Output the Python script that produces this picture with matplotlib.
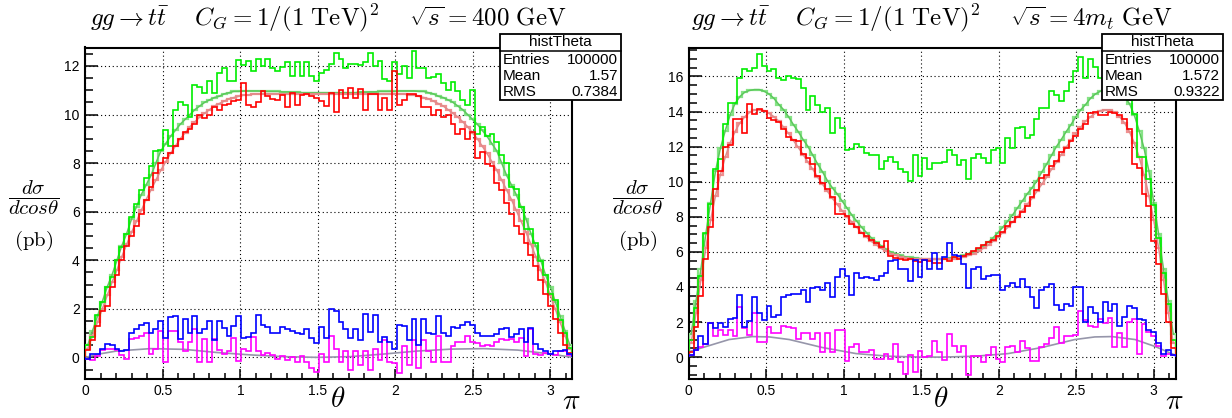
import numpy as np
import matplotlib.pyplot as plt
from matplotlib.patches import Rectangle
from matplotlib.ticker import MultipleLocator

plt.rcParams['mathtext.fontset'] = 'cm'
plt.rcParams['font.family'] = ['Liberation Sans', 'DejaVu Sans']

# ---- data: 100 bins in theta from 0 to pi ----
n_bins = 100

# left panel: sqrt(s) = 400 GeV
left_green = [0.5, 0.85, 1.75, 2.3, 2.9, 3.3, 4.0, 4.55, 5.1, 5.8,
              6.3, 6.9, 7.4, 7.9, 8.5, 8.55, 9.35, 8.7, 10.2, 10.5,
              10.4, 9.9, 11.2, 11.15, 10.9, 11.4, 10.9, 11.7, 11.9, 11.4,
              11.4, 12.25, 12.05, 12.2, 11.8, 12.3, 12.0, 12.3, 11.9, 11.8,
              11.95, 12.15, 11.6, 12.15, 11.6, 12.15, 11.6, 11.4, 11.7, 11.85,
              12.1, 12.55, 12.3, 11.9, 12.1, 12.1, 12.05, 12.15, 12.55, 12.0,
              12.2, 11.45, 11.4, 12.15, 11.65, 12.0, 11.5, 12.6, 11.9, 11.9,
              11.5, 11.55, 11.65, 11.3, 11.0, 11.35, 10.95, 10.6, 10.4, 11.0,
              9.2, 9.5, 9.1, 9.2, 8.85, 8.35, 8.0, 7.0, 6.95, 6.2,
              5.3, 5.3, 4.7, 3.95, 3.4, 2.6, 2.35, 1.55, 1.0, 0.4]
left_green_smooth = [0.5, 1.1, 1.7, 2.3, 2.9, 3.4, 4.0, 4.6, 5.1, 5.7,
                     6.2, 6.7, 7.1, 7.5, 8.0, 8.5, 8.8, 9.1, 9.35, 9.6,
                     9.8, 10.0, 10.2, 10.35, 10.5, 10.6, 10.7, 10.75, 10.85, 10.9,
                     10.95, 10.95, 10.97, 10.97, 10.97, 10.97, 10.95, 10.95, 10.95, 10.95,
                     10.93, 10.93, 10.92, 10.92, 10.9, 10.9, 10.9, 10.9, 10.9, 10.9,
                     10.9, 10.9, 10.9, 10.9, 10.9, 10.9, 10.92, 10.92, 10.93, 10.93,
                     10.95, 10.95, 10.95, 10.95, 10.97, 10.97, 10.97, 10.97, 10.95, 10.95,
                     10.9, 10.85, 10.75, 10.7, 10.6, 10.5, 10.35, 10.2, 10.0, 9.8,
                     9.6, 9.35, 9.1, 8.8, 8.5, 8.0, 7.5, 7.1, 6.7, 6.2,
                     5.7, 5.1, 4.6, 4.0, 3.4, 2.9, 2.3, 1.7, 1.1, 0.5]
left_red = [0.3, 0.7, 1.3, 1.9, 2.1, 2.9, 3.4, 4.0, 4.6, 5.0,
            5.4, 5.9, 6.5, 7.0, 7.6, 8.0, 8.2, 8.4, 8.7, 9.0,
            9.3, 9.4, 9.6, 10.0, 9.85, 10.0, 10.3, 10.2, 10.4, 10.45,
            10.55, 10.6, 11.3, 10.4, 10.3, 10.5, 10.95, 10.75, 10.65, 10.6,
            10.8, 10.3, 10.9, 10.4, 10.8, 10.85, 10.75, 10.7, 10.55, 10.35,
            10.9, 10.1, 11.0, 10.7, 11.1, 10.7, 11.05, 10.2, 10.85, 10.85,
            10.2, 10.7, 10.2, 11.8, 10.4, 10.6, 10.85, 10.85, 10.75, 10.3,
            10.3, 10.0, 10.2, 9.9, 10.0, 9.6, 9.2, 9.4, 9.0, 9.3,
            8.2, 8.45, 7.95, 7.9, 7.2, 6.9, 6.35, 5.9, 5.4, 5.1,
            4.7, 4.2, 3.75, 3.2, 2.6, 2.1, 1.6, 1.0, 0.5, 0.2]
left_red_smooth = [0.35, 0.9, 1.45, 2.0, 2.55, 3.1, 3.6, 4.15, 4.65, 5.15,
                   5.6, 6.05, 6.5, 6.9, 7.3, 7.7, 8.05, 8.4, 8.7, 9.0,
                   9.25, 9.5, 9.7, 9.9, 10.05, 10.2, 10.35, 10.45, 10.55, 10.65,
                   10.7, 10.75, 10.8, 10.8, 10.85, 10.85, 10.85, 10.85, 10.85, 10.85,
                   10.85, 10.85, 10.85, 10.85, 10.85, 10.85, 10.85, 10.85, 10.85, 10.85,
                   10.85, 10.85, 10.85, 10.85, 10.85, 10.85, 10.85, 10.85, 10.85, 10.85,
                   10.85, 10.85, 10.85, 10.85, 10.85, 10.85, 10.8, 10.8, 10.75, 10.7,
                   10.65, 10.55, 10.45, 10.35, 10.2, 10.05, 9.9, 9.7, 9.5, 9.25,
                   9.0, 8.7, 8.4, 8.05, 7.7, 7.3, 6.9, 6.5, 6.05, 5.6,
                   5.15, 4.65, 4.15, 3.6, 3.1, 2.55, 2.0, 1.45, 0.9, 0.35]
left_blue = [-0.05, 0.15, 0.15, 0.35, 0.55, 0.5, 0.35, 0.25, 0.3, 1.0,
             1.15, 1.35, 1.4, 1.0, 1.15, 1.5, 0.8, 1.65, 1.7, 0.75,
             1.6, 1.0, 1.7, 1.0, 1.15, 1.5, 0.7, 1.5, 1.2, 0.9,
             1.3, 1.7, 0.8, 0.85, 1.0, 1.75, 1.35, 1.25, 1.0, 1.0,
             1.25, 1.15, 1.1, 1.0, 0.95, 1.15, 0.8, 0.6, 1.25, 0.8,
             2.0, 1.9, 1.45, 1.15, 0.8, 1.15, 0.7, 1.8, 1.05, 1.75,
             0.65, 0.85, 0.65, 0.35, 1.35, 1.3, 0.7, 1.6, 0.5, 1.6,
             1.0, 0.95, 1.7, 1.0, 0.9, 1.25, 1.2, 1.35, 1.45, 1.35,
             1.0, 0.9, 0.9, 0.9, 0.95, 1.15, 1.2, 0.85, 0.95, 1.15,
             0.65, 1.2, 0.55, 0.35, 0.25, 0.15, 0.25, 0.25, 0.3, 0.15]
left_magenta = [-0.05, -0.1, 0.05, 0.3, 0.35, 0.35, 0.3, 0.1, -0.05, 0.75,
                0.8, 0.9, 1.0, 0.15, 0.35, 1.1, -0.2, 1.1, 1.1, 0.65,
                0.25, 0.65, 1.15, -0.2, 0.75, -0.2, 0.75, 0.3, 0.15, 0.25,
                0.8, -0.15, 0.35, 0.25, 0.85, 0.25, 0.1, 0.2, 0.1, -0.05,
                0.05, -0.1, 0.0, -0.2, 0.05, -0.2, -0.45, -0.6, 0.15, -0.2,
                0.9, 0.35, -0.2, 0.25, -0.5, 0.25, -0.3, 0.25, -0.5, 0.35,
                -0.1, 0.7, -0.2, -0.25, -0.65, 0.45, -0.3, 0.7, -0.45, 0.7,
                0.25, -0.2, 0.9, -0.2, -0.2, 0.45, 0.65, 0.65, 0.9, 0.65,
                0.6, 0.45, 0.5, 0.45, 0.65, 0.75, 0.7, 0.75, 0.65, 0.8,
                0.05, 1.15, 0.15, 0.1, 0.2, 0.15, 0.1, 0.25, 0.25, 0.1]
left_gray_theta = [0.0, 0.1, 0.2, 0.42, 0.64, 0.85, 1.07, 1.28, 1.5, 1.71,
                   1.93, 2.14, 2.36, 2.57, 2.79, 3.0, 3.1416]
left_gray = [0.0, 0.15, 0.26, 0.36, 0.33, 0.2, 0.1, 0.03, 0.0, 0.03,
             0.14, 0.26, 0.34, 0.36, 0.3, 0.14, 0.0]

# right panel: sqrt(s) = 4 m_t
right_green = [0.95, 2.8, 4.6, 7.1, 8.7, 10.7, 11.3, 13.3, 14.5, 14.5,
               15.9, 16.4, 16.3, 16.5, 17.3, 16.6, 16.3, 16.4, 15.9, 15.8,
               16.0, 15.9, 15.85, 15.35, 14.1, 14.9, 14.4, 13.95, 14.2, 12.8,
               13.65, 13.05, 11.8, 11.85, 12.15, 12.0, 11.65, 11.55, 11.5, 10.75,
               11.2, 11.4, 11.1, 10.75, 10.55, 10.05, 11.5, 10.3, 11.35, 10.75,
               11.05, 11.05, 11.1, 11.8, 11.55, 10.95, 11.25, 10.15, 11.35, 11.6,
               11.35, 11.05, 11.8, 11.9, 11.05, 12.5, 11.9, 13.05, 13.1, 12.5,
               12.65, 13.6, 14.2, 14.2, 15.15, 14.95, 14.6, 15.15, 15.7, 16.3,
               17.1, 15.9, 17.0, 16.55, 15.9, 16.95, 15.75, 16.2, 15.15, 15.0,
               14.65, 13.85, 11.4, 11.4, 10.15, 8.65, 6.8, 4.8, 3.0, 0.95]
right_green_smooth = [1.3, 3.2, 5.0, 7.0, 8.8, 10.6, 11.9, 12.9, 13.8, 14.45,
                      14.85, 15.1, 15.2, 15.25, 15.25, 15.15, 15.0, 14.75, 14.4, 14.1,
                      13.7, 13.25, 12.85, 12.4, 12.0, 11.5, 11.0, 10.55, 10.05, 9.65,
                      9.3, 8.9, 8.5, 8.1, 7.75, 7.4, 7.1, 6.8, 6.55, 6.35,
                      6.15, 6.0, 5.9, 5.8, 5.72, 5.68, 5.65, 5.62, 5.6, 5.6,
                      5.6, 5.6, 5.62, 5.65, 5.68, 5.72, 5.8, 5.9, 6.0, 6.15,
                      6.35, 6.55, 6.8, 7.1, 7.4, 7.75, 8.1, 8.5, 8.9, 9.3,
                      9.65, 10.05, 10.55, 11.0, 11.5, 12.0, 12.4, 12.85, 13.25, 13.7,
                      14.1, 14.4, 14.75, 15.0, 15.15, 15.25, 15.25, 15.2, 15.1, 14.85,
                      14.45, 13.8, 12.9, 11.9, 10.6, 8.8, 7.0, 5.0, 3.2, 1.3]
right_red = [0.3, 1.7, 3.5, 5.6, 7.4, 9.6, 10.6, 12.0, 12.1, 13.6,
             13.6, 12.8, 14.45, 13.85, 14.15, 14.05, 13.65, 13.5, 13.4, 13.0,
             12.55, 12.4, 12.3, 11.6, 11.35, 11.0, 10.35, 9.95, 9.6, 9.1,
             8.15, 8.15, 8.05, 7.6, 7.4, 7.1, 6.9, 6.65, 6.5, 6.3,
             6.6, 5.75, 5.65, 5.6, 5.55, 5.6, 5.5, 5.45, 5.55, 5.5,
             5.35, 5.35, 5.6, 5.5, 5.7, 5.6, 5.75, 5.9, 6.05, 6.2,
             6.4, 6.55, 6.7, 6.9, 7.15, 7.5, 7.7, 8.0, 8.3, 8.6,
             9.1, 9.55, 10.2, 10.4, 10.9, 11.2, 11.7, 11.9, 12.3, 12.6,
             13.0, 13.3, 13.9, 14.0, 13.8, 13.8, 14.0, 13.9, 13.8, 13.6,
             13.0, 11.0, 10.8, 9.3, 8.6, 6.6, 5.3, 3.6, 2.0, 0.5]
right_red_smooth = [0.8, 2.5, 4.4, 6.2, 7.8, 9.2, 10.4, 11.4, 12.2, 12.85,
                    13.35, 13.7, 13.95, 14.1, 14.1, 14.05, 13.9, 13.7, 13.45, 13.1,
                    12.75, 12.35, 11.95, 11.55, 11.1, 10.7, 10.25, 9.85, 9.45, 9.05,
                    8.7, 8.35, 8.0, 7.7, 7.4, 7.1, 6.85, 6.6, 6.4, 6.2,
                    6.05, 5.9, 5.8, 5.72, 5.66, 5.62, 5.6, 5.58, 5.57, 5.57,
                    5.57, 5.57, 5.58, 5.6, 5.62, 5.66, 5.72, 5.8, 5.9, 6.05,
                    6.2, 6.4, 6.6, 6.85, 7.1, 7.4, 7.7, 8.0, 8.35, 8.7,
                    9.05, 9.45, 9.85, 10.25, 10.7, 11.1, 11.55, 11.95, 12.35, 12.75,
                    13.1, 13.45, 13.7, 13.9, 14.05, 14.1, 14.1, 13.95, 13.7, 13.35,
                    12.85, 12.2, 11.4, 10.4, 9.2, 7.8, 6.2, 4.4, 2.5, 0.8]
right_blue = [0.1, 0.4, 1.2, 0.75, 1.95, 1.65, 1.95, 1.7, 2.2, 2.25,
              3.55, 1.7, 2.05, 3.4, 2.5, 2.1, 2.9, 2.3, 2.4, 3.45,
              3.55, 3.6, 3.6, 3.85, 3.15, 3.95, 4.0, 3.8, 4.2, 3.4,
              4.55, 5.0, 4.6, 3.55, 4.8, 4.5, 4.55, 4.5, 4.4, 4.65,
              4.8, 5.5, 5.55, 5.0, 5.0, 4.35, 5.55, 4.55, 5.55, 5.0,
              5.95, 5.0, 5.7, 6.5, 5.8, 5.75, 5.3, 3.95, 5.0, 5.15,
              4.45, 4.65, 4.7, 4.7, 3.85, 4.05, 4.25, 4.0, 4.45, 4.0,
              3.45, 2.8, 3.85, 4.0, 4.15, 2.95, 2.7, 3.05, 2.9, 4.0,
              4.0, 2.0, 2.85, 2.5, 2.0, 3.15, 2.6, 3.05, 1.75, 2.3,
              2.9, 2.8, 2.2, 2.1, 1.55, 1.45, 0.8, 0.2, 0.4, 0.1]
right_magenta = [0.1, 0.4, 0.55, 0.75, 1.95, 1.2, 1.55, 1.25, 1.55, 1.2,
                 2.85, 1.65, 1.25, 2.5, 0.85, 0.85, 1.7, 1.4, 1.4, 1.75,
                 1.7, 1.65, 1.05, 1.35, 1.35, 1.05, 1.35, 0.3, 1.35, 0.3,
                 1.55, 1.55, -0.2, 0.6, 0.75, 0.3, 0.3, 0.4, -0.1, -0.1,
                 0.2, -0.1, 0.75, -0.3, -0.95, 0.1, -0.85, 0.35, 0.0, 0.05,
                 0.9, 0.3, -0.15, 1.3, 0.65, 0.3, 0.65, -1.0, 0.05, 0.05,
                 -0.3, 0.1, 0.6, -0.1, -0.3, 0.55, 0.65, 0.3, 0.9, 0.5,
                 -0.25, -0.25, 0.6, 0.75, 1.1, 1.7, 0.8, 1.2, 1.2, 1.25,
                 2.6, 2.1, 1.75, 1.7, 2.2, 1.95, 2.25, 0.6, 1.4, 0.6,
                 2.0, 2.15, 0.2, 1.9, 1.45, 1.2, 0.65, 0.05, 0.2, 0.1]
right_gray_theta = [0.0, 0.13, 0.26, 0.41, 0.52, 0.65, 0.86, 1.08, 1.29, 1.5,
                    1.64, 1.85, 2.06, 2.28, 2.49, 2.62, 2.73, 2.88, 3.01, 3.1416]
right_gray = [0.3, 0.65, 1.0, 1.17, 1.15, 1.0, 0.55, 0.2, 0.05, 0.0,
              0.0, 0.05, 0.2, 0.55, 1.0, 1.15, 1.17, 1.0, 0.6, 0.1]

titles = [r'$gg\rightarrow t\bar{t}\quad\ C_G=1/(1\ \mathrm{TeV})^2\quad\ \sqrt{s}=400\ \mathrm{GeV}$',
          r'$gg\rightarrow t\bar{t}\quad\ C_G=1/(1\ \mathrm{TeV})^2\quad\ \sqrt{s}=4m_t\ \mathrm{GeV}$']
stats = [('1.57', '0.7384'), ('1.572', '0.9322')]

W, H = 1232, 418
fig = plt.figure(figsize=(W / 100, H / 100), dpi=100)

edges = np.linspace(0, np.pi, n_bins + 1)
centers = 0.5 * (edges[:-1] + edges[1:])

panels = [
    dict(left=85.3, ylim=(-0.87, 12.76), yticks=range(0, 13, 2),
         green=left_green, gs=left_green_smooth, red=left_red, rs=left_red_smooth,
         blue=left_blue, mag=left_magenta, gt=left_gray_theta, gy=left_gray),
    dict(left=688.7, ylim=(-1.22, 17.65), yticks=range(0, 17, 2),
         green=right_green, gs=right_green_smooth, red=right_red, rs=right_red_smooth,
         blue=right_blue, mag=right_magenta, gt=right_gray_theta, gy=right_gray),
]

for k, p in enumerate(panels):
    ax = fig.add_axes([p['left'] / W, 1 - 378.5 / H, 487 / W, 331 / H])

    ax.stairs(p['gs'], edges, color='#86e386', lw=1.6, zorder=3)
    ax.plot(centers, p['gs'], color='#5cc85c', lw=1.1, zorder=3)
    ax.stairs(p['rs'], edges, color='#f09090', lw=1.6, zorder=3)
    ax.plot(centers, p['rs'], color='#e08a8a', lw=1.1, zorder=3)
    ax.stairs(p['green'], edges, color='#00ee00', lw=1.2, zorder=4)
    ax.stairs(p['red'], edges, color='#ff0000', lw=1.2, zorder=4)
    ax.plot(p['gt'], p['gy'], color='#9696aa', lw=1.2, zorder=3)
    ax.stairs(p['mag'], edges, color='#ff00ff', lw=1.2, zorder=4)
    ax.stairs(p['blue'], edges, color='#0000ff', lw=1.2, zorder=4)

    ax.set_xlim(0, np.pi)
    ax.set_ylim(*p['ylim'])
    ax.set_xticks([0, 0.5, 1, 1.5, 2, 2.5, 3])
    ax.set_xticklabels(['0', '0.5', '1', '1.5', '2', '2.5', '3'])
    ax.set_yticks(list(p['yticks']))
    ax.xaxis.set_minor_locator(MultipleLocator(0.1))
    ax.yaxis.set_minor_locator(MultipleLocator(0.5))
    ax.tick_params(which='both', direction='in', top=False, right=False,
                   width=1.1, labelsize=10)
    ax.tick_params(axis='x', which='major', length=7, pad=4)
    ax.tick_params(axis='x', which='minor', length=4)
    ax.tick_params(axis='y', which='major', length=9, pad=4)
    ax.tick_params(axis='y', which='minor', length=5.5)
    ax.grid(True, which='major', color='black', lw=0.8, linestyle=(0, (1, 2.5)))
    for s in ax.spines.values():
        s.set_linewidth(1.5)
        s.set_color('black')

    xc = (p['left'] + 243.5) / W
    fig.text(xc, 1 - 18 / H, titles[k], ha='center', va='center', fontsize=18)

    # y label
    xl = (34 if k == 0 else 638) / W
    fig.text(xl, 1 - 198 / H, r'$\dfrac{d\sigma}{dcos\theta}$', ha='center', va='center', fontsize=15)
    fig.text(xl, 1 - 241 / H, r'$\mathrm{(pb)}$', ha='center', va='center', fontsize=15)

    # x labels
    fig.text((p['left'] + 252) / W, 1 - 399 / H, r'$\theta$', ha='center', va='center', fontsize=21)
    fig.text((p['left'] + 486) / W, 1 - 401 / H, r'$\pi$', ha='center', va='center', fontsize=21)

    # stats box
    bx0 = 500 if k == 0 else 1102
    bx1 = bx0 + 121
    by0, by1, byh = 33.5, 99.5, 50.5
    fig.add_artist(Rectangle((bx0 / W, 1 - by1 / H), (bx1 - bx0) / W, (by1 - by0) / H,
                             transform=fig.transFigure, facecolor='white',
                             edgecolor='black', lw=1.3, zorder=10))
    fig.add_artist(plt.Line2D([bx0 / W, bx1 / W], [1 - byh / H, 1 - byh / H],
                              transform=fig.transFigure, color='black', lw=1.1, zorder=11))
    fig.text((bx0 + bx1) / 2 / W, 1 - 42 / H, 'histTheta', ha='center', va='center',
             fontsize=11, zorder=12)
    rows = [('Entries', '100000'), ('Mean', stats[k][0]), ('RMS', stats[k][1])]
    for j, (lab, val) in enumerate(rows):
        yy = 1 - (59.5 + 16 * j) / H
        fig.text((bx0 + 3) / W, yy, lab, ha='left', va='center', fontsize=11, zorder=12)
        fig.text((bx1 - 3) / W, yy, val, ha='right', va='center', fontsize=11, zorder=12)

fig.savefig('out.png', dpi=100)
